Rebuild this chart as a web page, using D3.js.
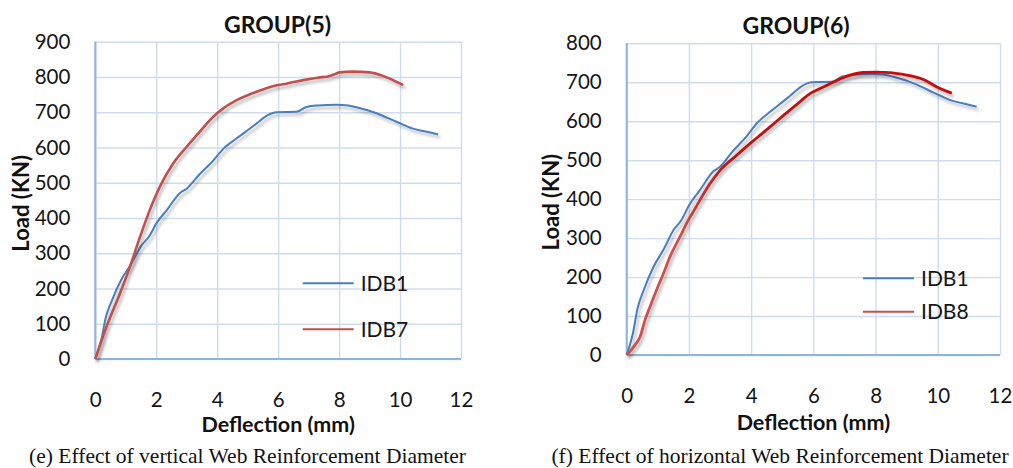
<!DOCTYPE html>
<html>
<head>
<meta charset="utf-8">
<script src="https://cdn.jsdelivr.net/npm/d3@7"></script>
<style>
  html, body { margin: 0; padding: 0; background: #ffffff; }
  svg { display: block; }
  .tick text { font-family: Lato, "Open Sans", sans-serif; font-size: 20.5px; fill: #151515; }
</style>
</head>
<body>
<svg id="fig" width="1013" height="468"></svg>
<script>
// Load–deflection readings, [deflection (mm), load (kN)]
const idb1 = [
  [0, 0], [0.2, 56], [0.35, 120], [0.53, 163], [0.86, 226], [1.18, 270], [1.5, 320],
  [1.77, 348], [2.0, 384], [2.36, 424], [2.78, 471], [3.0, 483], [3.4, 522],
  [3.86, 562], [4.2, 596], [4.64, 626], [5.14, 658], [5.29, 668], [5.63, 690],
  [5.8, 697], [5.95, 700], [6.6, 701], [6.93, 715], [7.3, 719], [7.93, 721],
  [8.24, 720], [8.57, 714], [9.23, 697], [9.43, 690], [9.88, 673], [10.18, 662],
  [10.4, 654], [10.8, 646], [11.25, 637]
];
const idb7 = [
  [0, 0], [0.37, 92], [0.81, 186], [1.14, 262], [1.47, 347], [1.79, 423], [2.12, 489],
  [2.56, 555], [3.0, 602], [3.43, 645], [3.87, 687], [4.2, 711], [4.64, 734],
  [5.29, 758], [6.0, 777], [6.27, 781], [6.82, 791], [7.3, 798], [7.7, 803],
  [7.86, 808], [8.02, 813], [8.46, 815], [9.0, 813], [9.44, 803], [9.77, 791], [10.1, 777]
];
const idb8 = [
  [0, 0], [0.27, 26], [0.43, 47], [0.59, 90], [0.75, 124], [0.96, 167], [1.18, 209],
  [1.39, 252], [1.71, 303], [1.98, 346], [2.2, 376], [2.68, 440], [3.0, 474],
  [3.5, 510], [4.0, 545], [4.18, 557], [4.6, 585], [5.04, 615], [5.57, 650],
  [5.89, 671], [6.22, 684], [6.43, 692], [6.96, 712], [7.6, 725], [8.04, 726],
  [8.89, 720], [9.54, 707], [9.97, 688], [10.45, 672]
];

const xTicks = [0, 2, 4, 6, 8, 10, 12];
const yTicksGroup5 = [0, 100, 200, 300, 400, 500, 600, 700, 800, 900];
const yTicksGroup6 = [0, 100, 200, 300, 400, 500, 600, 700, 800];

const titles = ["GROUP(5)", "GROUP(6)"];
const captions = [
  "(e) Effect of vertical Web Reinforcement Diameter",
  "(f) Effect of horizontal Web Reinforcement Diameter"
];
const xTitle = "Deflection (mm)";
const yTitle = "Load (KN)";

const svg = d3.select("#fig");
const defs = svg.append("defs");

// soft shadow under the curves
defs.append("filter").attr("id", "soft").attr("x", "-5%").attr("y", "-5%")
  .attr("width", "115%").attr("height", "120%")
  .append("feDropShadow")
  .attr("dx", 2).attr("dy", 3).attr("stdDeviation", 1.6)
  .attr("flood-color", "#000").attr("flood-opacity", 0.28);

const sans = "Lato, 'Open Sans', sans-serif";
const gridColor = "#cfdcef";
const axisColor = "#8fb3e0";

function drawPanel(p) {
  const x = d3.scaleLinear().domain([0, 12]).range([p.x0, p.x1]);
  const y = d3.scaleLinear().domain([0, p.yMax]).range([p.y0, p.y1]);
  const g = svg.append("g");

  // vertical grid + x tick labels
  const gx = g.append("g").attr("transform", `translate(0,${p.y0})`)
    .call(d3.axisBottom(x).tickValues(xTicks).tickSize(-(p.y0 - p.y1)).tickPadding(33));
  gx.select(".domain").remove();
  gx.selectAll(".tick line").attr("stroke", gridColor).attr("stroke-width", 1.4);

  // horizontal grid + y tick labels
  const gy = g.append("g").attr("transform", `translate(${p.x0},0)`)
    .call(d3.axisLeft(y).tickValues(p.yTicks).tickSize(-(p.x1 - p.x0)).tickPadding(25));
  gy.select(".domain").remove();
  gy.selectAll(".tick line").attr("stroke", gridColor).attr("stroke-width", 1.4);

  // axis lines
  g.append("line").attr("x1", x(0)).attr("x2", x(0)).attr("y1", y(p.yMax)).attr("y2", y(0))
    .attr("stroke", axisColor).attr("stroke-width", 2);
  g.append("line").attr("x1", x(0)).attr("x2", x(12)).attr("y1", y(0)).attr("y2", y(0))
    .attr("stroke", axisColor).attr("stroke-width", 2);

  // curves
  const lineGen = d3.line().x(d => x(d[0])).y(d => y(d[1])).curve(d3.curveMonotoneX);
  p.series.forEach((s, i) => {
    let stroke = s.color;
    if (s.fadeTo) {
      // lower branch of the curve is drawn in a lighter red
      const id = `grad${p.title.replace(/\W/g, "")}${i}`;
      const gr = defs.append("linearGradient").attr("id", id)
        .attr("gradientUnits", "userSpaceOnUse")
        .attr("x1", 0).attr("x2", 0).attr("y1", y(300)).attr("y2", y(520));
      gr.append("stop").attr("offset", "0%").attr("stop-color", s.fadeTo);
      gr.append("stop").attr("offset", "100%").attr("stop-color", s.color);
      stroke = `url(#${id})`;
    }
    g.append("path").datum(s.data)
      .attr("d", lineGen)
      .attr("fill", "none")
      .attr("stroke", stroke)
      .attr("stroke-width", s.width)
      .attr("stroke-linejoin", "round")
      .attr("filter", "url(#soft)");
  });

  // legend
  p.series.forEach((s, i) => {
    const ly = p.legendY[i];
    g.append("line").attr("x1", p.legendX).attr("x2", p.legendX + 51)
      .attr("y1", ly).attr("y2", ly)
      .attr("stroke", s.legendColor).attr("stroke-width", 2);
    g.append("text").attr("x", p.legendX + 58).attr("y", ly)
      .attr("dy", "0.36em")
      .attr("font-family", sans).attr("font-size", 21).attr("fill", "#151515")
      .text(s.name);
  });

  // titles
  g.append("text").attr("x", p.titleX).attr("y", p.titleY).attr("text-anchor", "middle")
    .attr("font-family", sans).attr("font-weight", 700).attr("font-size", 23)
    .attr("fill", "#111").text(p.title);
  g.append("text").attr("x", (p.x0 + p.x1) / 2).attr("y", p.xTitleY).attr("text-anchor", "middle")
    .attr("font-family", sans).attr("font-weight", 700).attr("font-size", 21.5)
    .attr("fill", "#111").text(xTitle);
  g.append("text")
    .attr("transform", `translate(${p.yTitleX},${(p.y0 + p.y1) / 2 + 3}) rotate(-90)`)
    .attr("text-anchor", "middle").attr("dy", "0.35em")
    .attr("font-family", sans).attr("font-weight", 700).attr("font-size", 22)
    .attr("fill", "#111").text(yTitle);

  // caption
  g.append("text").attr("x", p.captionX).attr("y", 463).attr("text-anchor", "middle")
    .attr("font-family", "'Liberation Serif', 'Times New Roman', serif").attr("font-size", 21.5)
    .attr("fill", "#111").text(p.caption);
}

drawPanel({
  x0: 95.3, x1: 461, y0: 359, y1: 41.7, yMax: 900, yTicks: yTicksGroup5,
  title: titles[0], titleX: 277.5, titleY: 33,
  xTitleY: 432, yTitleX: 21,
  legendX: 302.7, legendY: [283.3, 329.3],
  caption: captions[0], captionX: 247.5,
  series: [
    { name: "IDB1", data: idb1, color: "#4a7ebb", legendColor: "#4a7ebb", width: 2 },
    { name: "IDB7", data: idb7, color: "#c0504d", legendColor: "#c0504d", width: 2.6 }
  ]
});

drawPanel({
  x0: 626.7, x1: 1000, y0: 355, y1: 43.3, yMax: 800, yTicks: yTicksGroup6,
  title: titles[1], titleX: 796, titleY: 34,
  xTitleY: 430, yTitleX: 551,
  legendX: 863, legendY: [278.3, 311.7],
  caption: captions[1], captionX: 780,
  series: [
    { name: "IDB1", data: idb1, color: "#4a7ebb", legendColor: "#4a7ebb", width: 2 },
    { name: "IDB8", data: idb8, color: "#c60a0a", fadeTo: "#d0504e", legendColor: "#c0504d", width: 2.8 }
  ]
});
</script>
</body>
</html>
